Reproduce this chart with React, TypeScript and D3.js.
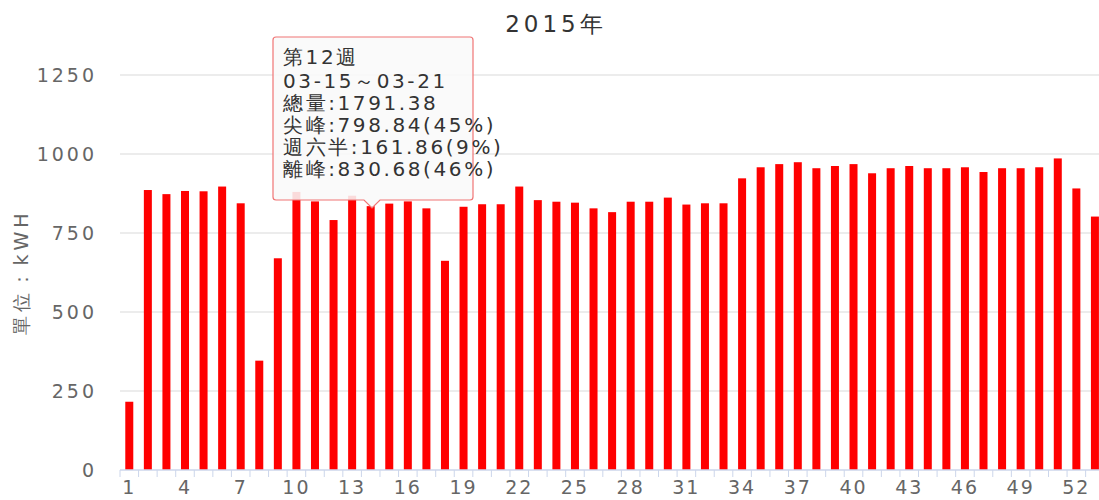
import React from "react";
import * as d3 from "d3";

const weeks: number[] = d3.range(1, 54);
const values: number[] = [
  216, 886, 873, 883, 882, 897, 844, 346, 670, 880,
  850, 791, 868, 835, 843, 850, 828, 662, 833, 841,
  841, 897, 854, 849, 846, 828, 816, 849, 849, 862,
  840, 844, 844, 923, 958, 968, 974, 955, 962, 968,
  939, 955, 962, 955, 955, 958, 943, 955, 955, 958,
  986, 891, 802,
];
const yTicks: number[] = [0, 250, 500, 750, 1000, 1250];
const xLabelWeeks: number[] = weeks.filter((w) => (w - 1) % 3 === 0);
const titleText = "2015年";
const yTitle = "單位：kWH";
const tooltipLines: string[] = [
  "第12週",
  "03-15～03-21",
  "總量:1791.38",
  "尖峰:798.84(45%)",
  "週六半:161.86(9%)",
  "離峰:830.68(46%)",
];

const W = 1099;
const H = 500;
const left = 120;
const step = 18.57;
const top = 75;
const bottom = 470;
const font = "'DejaVu Sans', Verdana, sans-serif";

export default function App() {
  const x = d3
    .scaleBand<number>()
    .domain(weeks)
    .range([left, left + step * weeks.length])
    .padding(0);
  const y = d3.scaleLinear().domain([0, 1250]).range([bottom, top]);
  const barW = 8;
  const bw = x.bandwidth();

  const tipX = 273, tipY = 37, tipW = 200, tipH = 163, arrowX = 372;
  const tipPath =
    `M${tipX + 3},${tipY} H${tipX + tipW - 3} Q${tipX + tipW},${tipY} ${tipX + tipW},${tipY + 3}` +
    ` V${tipY + tipH - 3} Q${tipX + tipW},${tipY + tipH} ${tipX + tipW - 3},${tipY + tipH}` +
    ` H${arrowX + 8} L${arrowX},${tipY + tipH + 8} L${arrowX - 8},${tipY + tipH}` +
    ` H${tipX + 3} Q${tipX},${tipY + tipH} ${tipX},${tipY + tipH - 3} V${tipY + 3} Q${tipX},${tipY} ${tipX + 3},${tipY} Z`;
  const lineY = [64, 88, 110, 132, 154, 176];

  return (
    <svg
      width={W}
      height={H}
      style={{ position: "absolute", left: 0, top: 0, background: "#fff" }}
      fontFamily={font}
    >
      <rect width={W} height={H} fill="#fff" />
      <text x={556} y={32} textAnchor="middle" fontSize={23} fill="#333" letterSpacing={4}>
        {titleText}
      </text>
      {yTicks.map((t) => (
        <g key={t}>
          {t > 0 && (
            <line x1={left} x2={W} y1={y(t)} y2={y(t)} stroke="#e6e6e6" strokeWidth={1.5} />
          )}
          <text
            x={97}
            y={y(t)}
            dy="0.36em"
            textAnchor="end"
            fontSize={19}
            fill="#666"
            letterSpacing={3}
          >
            {t}
          </text>
        </g>
      ))}
      <text
        transform={`translate(28,272) rotate(-90)`}
        textAnchor="middle"
        fontSize={19}
        fill="#666"
        letterSpacing={4}
      >
        {yTitle}
      </text>
      {weeks.map((w, i) => (
        <rect
          key={w}
          x={(x(w) as number) + bw / 2 - barW / 2}
          y={y(values[i])}
          width={barW}
          height={bottom - y(values[i])}
          fill="#ff0000"
        />
      ))}
      <line x1={left} x2={W} y1={bottom} y2={bottom} stroke="#ccd6eb" strokeWidth={1.5} />
      {weeks.map((w) => (
        <line
          key={w}
          x1={x(w) as number}
          x2={x(w) as number}
          y1={bottom}
          y2={bottom + 7}
          stroke="#ccd6eb"
          strokeWidth={1}
        />
      ))}
      {xLabelWeeks.map((w) => (
        <text
          key={w}
          x={(x(w) as number) + bw / 2}
          y={494}
          textAnchor="middle"
          fontSize={19}
          fill="#666"
          letterSpacing={2}
        >
          {w}
        </text>
      ))}
      <path d={tipPath} fill="rgba(249,249,249,0.88)" stroke="#f07575" strokeWidth={1.2} />
      {tooltipLines.map((s, i) => (
        <text key={i} x={283} y={lineY[i]} fontSize={20} fill="#333" letterSpacing={2.6}>
          {s}
        </text>
      ))}
    </svg>
  );
}
